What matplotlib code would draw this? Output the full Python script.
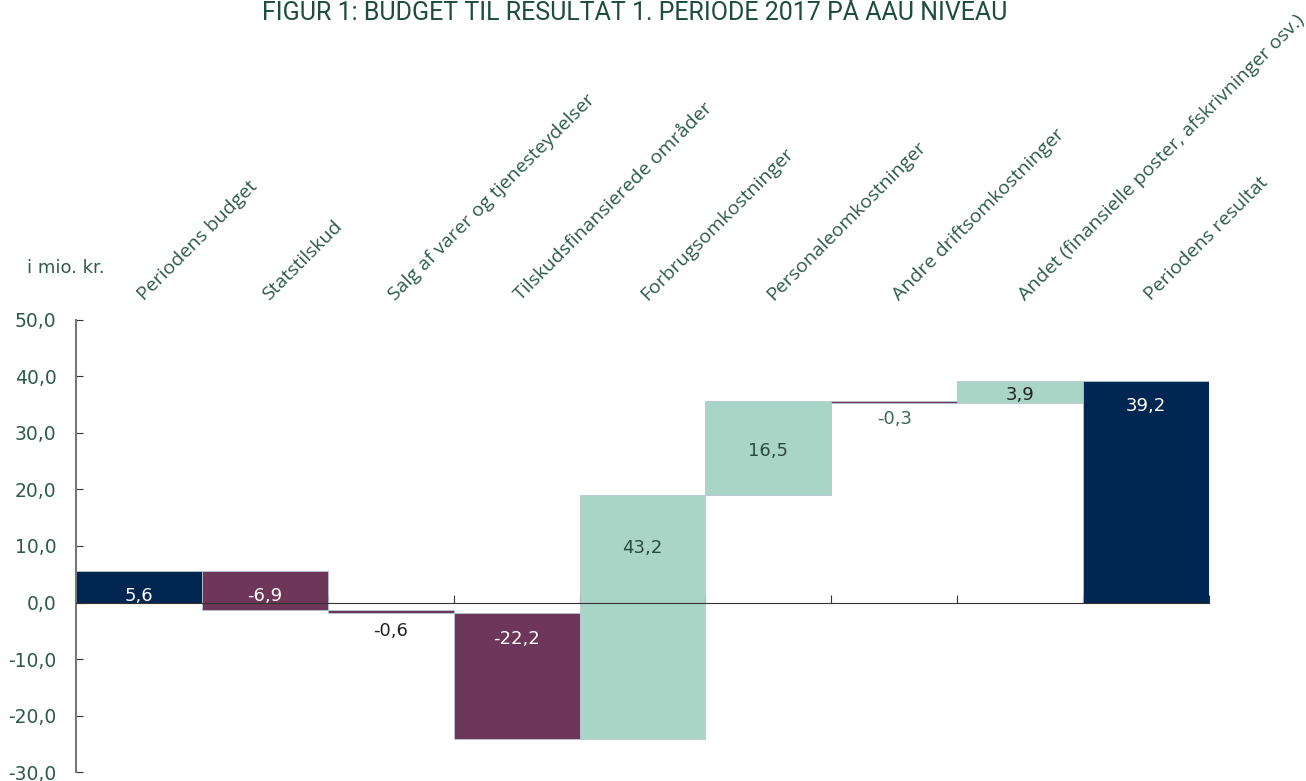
import matplotlib
matplotlib.use('Agg')
import matplotlib.pyplot as plt
import matplotlib.transforms as mtransforms

# Waterfall data (mio. kr.)
categories = ["Periodens budget", "Statstilskud", "Salg af varer og tjenesteydelser",
              "Tilskudsfinansierede områder", "Forbrugsomkostninger", "Personaleomkostninger",
              "Andre driftsomkostninger", "Andet (finansielle poster, afskrivninger osv.)",
              "Periodens resultat"]
values = [5.6, -6.9, -0.6, -22.2, 43.2, 16.5, -0.3, 3.9, 39.2]
is_total = [True, False, False, False, False, False, False, False, True]
# where the value label sits (y in mio. kr.) and its colour
label_y = [1.2, 1.2, -5.1, -6.5, 9.7, 26.9, 32.4, 36.8, 34.7]
label_colors = ['white', 'white', '#222222', 'white', '#2b4a3f', '#2b4a3f', '#3a6a55', '#222222', 'white']

navy = '#002651'
purple = '#6e3759'
mint = '#a8d5c6'
green_txt = '#2d5b4b'

plt.rcParams['font.family'] = ['DejaVu Sans']

fig = plt.figure(figsize=(13.06, 7.81), dpi=100)
ax = fig.add_axes([0.0582, 0.0115, 0.8675, 0.5788])

# compute bar bottoms from the running total
running = 0.0
for i, v in enumerate(values):
    if is_total[i]:
        bottom, height, color = 0.0, v, navy
        running = v
    else:
        bottom = running
        height = v
        running = running + v
        color = mint if v > 0 else purple
    ax.bar(i, height, bottom=bottom, width=1.0, color=color,
           edgecolor='#b8c4d0', linewidth=0.6, zorder=2)
    ax.text(i, label_y[i], ('%.1f' % v).replace('.', ','), ha='center', va='center',
            fontsize=13, color=label_colors[i], zorder=4)

ax.set_xlim(-0.5, len(values) - 0.5)
ax.set_ylim(-30, 50)
ax.set_yticks(range(-30, 51, 10))
ax.set_yticklabels([('%.1f' % t).replace('.', ',') for t in range(-30, 51, 10)],
                   fontsize=13.5, color=green_txt)
ax.tick_params(axis='y', direction='in', length=5, color='#333333', pad=14)

# zero line with ticks at the category boundaries
ax.spines['bottom'].set_position(('data', 0))
ax.spines['bottom'].set_color('#333333')
ax.spines['bottom'].set_zorder(3)
ax.spines['left'].set_color('#777777')
ax.spines['left'].set_linewidth(1.5)
ax.spines['top'].set_visible(False)
ax.spines['right'].set_visible(False)
ax.set_xticks([i - 0.5 for i in range(len(values) + 1)])
ax.set_xticklabels([])
ax.tick_params(axis='x', direction='in', length=6, color='#333333')

# category labels above the plot, rotated
trans = mtransforms.blended_transform_factory(ax.transData, ax.transAxes)
for i, c in enumerate(categories):
    ax.text(i + 0.06, 1.035, c, transform=trans, rotation=45, rotation_mode='anchor',
            ha='left', va='bottom', fontsize=14, color=green_txt, family='Open Sans')

fig.text(0.021, 0.651, 'i mio. kr.', fontsize=13, color=green_txt, ha='left', va='baseline')
fig.text(0.486, 0.975, 'FIGUR 1: BUDGET TIL RESULTAT 1. PERIODE 2017 PÅ AAU NIVEAU',
         fontsize=18, color='#1e4d3a', ha='center', va='baseline', family='Roboto')

fig.savefig('out.png', dpi=100)
